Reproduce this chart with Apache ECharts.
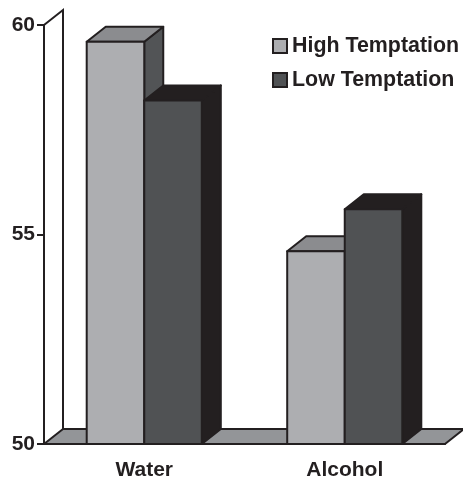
<!DOCTYPE html>
<html>
<head>
<meta charset="utf-8">
<style>
  html, body { margin: 0; padding: 0; background: #fff; }
  #chart { width: 463px; height: 477px; }
</style>
<script src="https://cdn.jsdelivr.net/npm/echarts@6/dist/echarts.min.js"></script>
</head>
<body>
<div id="chart"></div>
<script>
const categories = ['Water', 'Alcohol'];
const highTemptation = [59.6, 54.6];
const lowTemptation = [58.2, 55.6];
const yTicks = [50, 55, 60];

const DX = 19;
const DY = -15;
const INK = '#231f20';
const FONT = '"Liberation Sans", Arial, sans-serif';

const chart = echarts.init(document.getElementById('chart'), null, { renderer: 'canvas' });

function poly(points, fill) {
  return {
    type: 'polygon',
    shape: { points },
    style: { fill, stroke: INK, lineWidth: 2, lineJoin: 'round' },
  };
}

// a bar is a front face plus a top and a side pushed back by DX/DY
function barItem(side, colors) {
  return (params, api) => {
    const cat = api.value(0);
    const base = api.coord([cat, 50]);
    const top = api.coord([cat, api.value(1)]);
    const w = api.size([1, 0])[0] * 0.287;
    const x0 = side < 0 ? base[0] - w : base[0];
    const x1 = x0 + w;
    return {
      type: 'group',
      children: [
        poly([[x1, top[1]], [x1 + DX, top[1] + DY], [x1 + DX, base[1] + DY], [x1, base[1]]], colors.side),
        poly([[x0, top[1]], [x0 + DX, top[1] + DY], [x1 + DX, top[1] + DY], [x1, top[1]]], colors.top),
        poly([[x0, top[1]], [x1, top[1]], [x1, base[1]], [x0, base[1]]], colors.front),
      ],
    };
  };
}

function floorItem(params, api) {
  const g = params.coordSys;
  const l = g.x, r = g.x + g.width, t = g.y, b = g.y + g.height;
  return {
    type: 'group',
    children: [
      poly([[l, b], [l + DX, b + DY], [r + DX, b + DY], [r, b]], '#939598'),
      {
        type: 'polyline',
        shape: { points: [[l, t], [l + DX, t + DY], [l + DX, b + DY]] },
        style: { fill: 'none', stroke: INK, lineWidth: 2 },
      },
    ],
  };
}

chart.setOption({
  animation: false,
  backgroundColor: '#fff',
  grid: { left: 44, right: 18, top: 25, bottom: 33, outerBoundsMode: 'none' },
  legend: {
    data: ['High Temptation', 'Low Temptation'],
    orient: 'vertical',
    left: 267,
    top: 29,
    itemWidth: 14,
    itemHeight: 14,
    itemGap: 10,
    icon: 'rect',
    textStyle: { fontFamily: FONT, fontWeight: 'bold', fontSize: 21.4, color: INK, padding: [0, 0, 0, 0], lineHeight: 24 },
  },
  xAxis: {
    type: 'category',
    data: categories,
    axisLine: { lineStyle: { color: INK, width: 2 } },
    axisTick: { length: 7, lineStyle: { color: INK, width: 2 } },
    axisLabel: { fontFamily: FONT, fontWeight: 'bold', fontSize: 21, color: INK, margin: 16 },
  },
  yAxis: {
    type: 'value',
    min: 50,
    max: 60,
    interval: 5,
    splitLine: { show: false },
    axisLine: { show: true, lineStyle: { color: INK, width: 2 } },
    axisTick: { show: true, length: 7, lineStyle: { color: INK, width: 2 } },
    axisLabel: {
      fontFamily: FONT, fontWeight: 'bold', fontSize: 21, color: INK, margin: 9,
      formatter: (v) => (yTicks.includes(v) ? String(v) : ''),
    },
  },
  series: [
    {
      type: 'custom',
      name: 'floor',
      renderItem: floorItem,
      data: [[0, 50]],
      encode: { x: 0, y: 1 },
      silent: true,
      z: 1,
    },
    {
      type: 'custom',
      name: 'High Temptation',
      renderItem: barItem(-1, { front: '#adaeb1', top: '#8b8c8f', side: '#525456' }),
      data: highTemptation.map((v, i) => [i, v]),
      encode: { x: 0, y: 1 },
      itemStyle: { color: '#adaeb1', borderColor: INK, borderWidth: 2 },
      z: 2,
    },
    {
      type: 'custom',
      name: 'Low Temptation',
      renderItem: barItem(1, { front: '#505254', top: INK, side: INK }),
      data: lowTemptation.map((v, i) => [i, v]),
      encode: { x: 0, y: 1 },
      itemStyle: { color: '#505254', borderColor: INK, borderWidth: 2 },
      z: 3,
    },
  ],
});
</script>
</body>
</html>
